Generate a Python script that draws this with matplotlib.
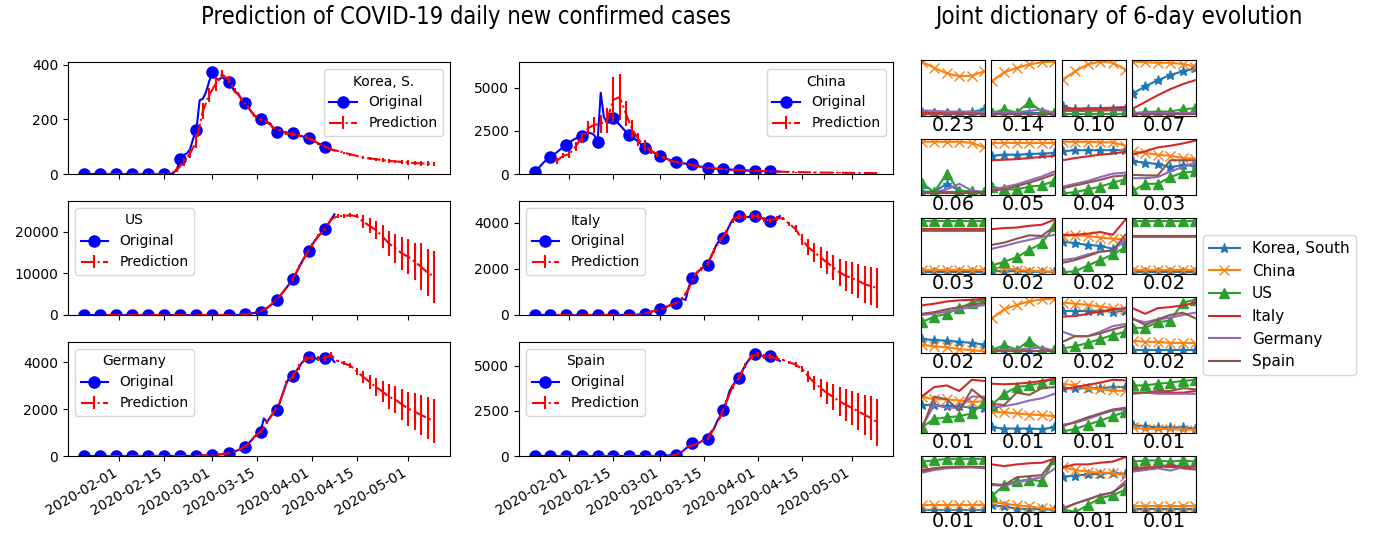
import numpy as np
import pandas as pd
import matplotlib
matplotlib.use('Agg')
import matplotlib.pyplot as plt
from matplotlib.lines import Line2D
from matplotlib import font_manager

# ---------------- data: daily original series (2020-01-21 .. 2020-04-08) ----------------
orig_dates = pd.date_range('2020-01-21', '2020-04-08', freq='D')
# prediction points every second day (2020-01-28 .. 2020-05-09)
pred_dates = pd.date_range('2020-01-28', '2020-05-09', freq='2D')

korea_orig = ([0] * 28 +
              [5, 20, 55, 70, 75, 90, 130, 161, 270, 275, 300, 340] +
              [373, 350, 345, 355, 345, 336, 320, 300, 295, 275, 259, 245, 230, 215, 205, 202,
               195, 190, 185, 165, 155, 158, 155, 150, 150, 149, 145, 140, 138, 135, 131] +
              [125, 118, 112, 105, 100, 95, 90, 86])
china_orig = ([130, 300, 500, 700, 850, 985, 1100, 1250, 1400, 1550, 1685] +
              [1800, 1950, 2050, 2150, 2216, 2350, 2400, 2350, 2250, 1850, 4700, 3300, 2950, 3000,
               3230, 3050, 2850, 2650, 2450, 2273, 2150, 2000, 1850, 1700, 1515, 1420, 1320, 1220, 1120] +
              [1023, 950, 880, 820, 760, 700, 670, 630, 600, 570, 550, 500, 460, 420, 390, 360,
               340, 320, 305, 295, 284, 270, 255, 245, 235, 227, 220, 210, 200, 195, 190] +
              [180, 172, 165, 158, 150, 145, 140, 135])
us_orig = ([0] * 49 +
           [50, 150, 250, 350, 500, 650, 800, 1200, 1700, 2300, 2900, 3600, 4500, 5500, 6500,
            7500, 8560, 10000, 11500, 13000, 14300, 15360] +
           [16800, 18000, 19000, 19800, 20560, 21800, 23000, 24200])
italy_orig = ([0] * 32 +
              [5, 15, 30, 58, 100, 140, 180, 210] +
              [247, 300, 360, 420, 470, 509, 600, 700, 650, 1200, 1600, 1750, 1900, 2000, 2100, 2180,
               2500, 2800, 3100, 3250, 3330, 3600, 3900, 4150, 4250, 4320, 4300, 4250, 4250, 4300, 4320] +
              [4300, 4250, 4150, 4100, 4060, 4150, 4200, 4300])
germany_orig = ([0] * 35 +
                [10, 15, 20, 30, 38] +
                [43, 55, 65, 80, 95, 114, 150, 200, 250, 310, 370, 500, 650, 800, 950, 1040,
                 1600, 1450, 1650, 1850, 1970, 2300, 2700, 3100, 3350, 3400, 3600, 3800, 4000, 4150, 4210] +
                [4200, 4150, 4150, 4200, 4190, 4300, 4200, 4000])
spain_orig = ([0] * 40 +
              [20, 20, 30, 40, 50, 74, 150, 250, 400, 550, 700, 600, 700, 800, 900, 926,
               1300, 1500, 1900, 2200, 2555, 3000, 3600, 3900, 4150, 4315, 4700, 5000, 5300, 5500, 5610] +
              [5600, 5550, 5500, 5500, 5520, 5450, 5350, 5250])

# ---------------- predictions (52 points) and their error half-widths ----------------
korea_pred = ([0] * 10 +
              [2, 15, 45, 75, 120, 230, 290, 330, 365, 345, 305, 275, 245, 215, 200, 190, 170, 158,
               150, 146, 140, 135, 125, 112, 100, 90,
               85, 78, 72, 66, 61, 57, 54, 51, 48, 46, 44, 42, 40, 39, 38, 37])
korea_err = ([0] * 11 +
             [8, 15, 18, 25, 30, 25, 25, 15, 12, 10, 6, 6, 6, 6, 6, 6, 6, 6, 6, 6, 6, 6, 6, 6, 6,
              4, 4, 5, 5, 5, 6, 6, 6, 7, 7, 7, 8, 8, 8, 8, 8])
china_pred = [750, 1050, 1150, 1600, 2100, 2650, 2850, 2900, 3100, 4300, 4450, 3500, 2600, 2000,
              1650, 1350, 1150, 950, 800, 700, 620, 560, 480, 410, 355, 315, 290, 265, 245, 225,
              210, 195, 180, 165, 150, 140,
              130, 120, 112, 105, 98, 92, 86, 81, 76, 72, 68, 64, 60, 57, 54, 51]
china_err = [150, 150, 200, 250, 300, 400, 450, 500, 700, 1300, 1350, 700, 500, 400, 300, 200,
             150, 100, 80, 60, 50, 40, 40, 40, 40, 40, 40, 40, 40, 40, 40, 40, 40, 40, 40, 40,
             30, 30, 30, 30, 30, 25, 25, 25, 25, 25, 25, 20, 20, 20, 20, 20]
us_pred = ([0] * 21 +
           [50, 250, 500, 800, 1700, 2900, 4500, 6500, 8600, 11500, 14300, 16800, 19000, 20600, 23000,
            23800, 23800, 24000, 23700, 22400, 21400, 20400, 18800, 17200, 16000, 14800, 14000,
            12800, 11600, 10200, 9200])
us_err = ([0] * 21 +
          [30, 60, 80, 100, 150, 200, 250, 300, 350, 400, 400, 400, 400, 400, 400,
           400, 400, 500, 500, 1600, 1800, 2200, 2800, 3000, 3400, 4000, 4200, 4400, 5600, 5600, 6200])
italy_pred = ([0] * 13 +
              [15, 60, 140, 210, 300, 420, 520, 720, 1150, 1750, 2000, 2200, 2800, 3250, 3600, 4100,
               4300, 4250, 4300, 4300, 4150, 4100, 4200,
               4200, 3950, 3740, 3280, 2950, 2720, 2500, 2280, 2065, 1850, 1700, 1600, 1480, 1340,
               1250, 1170])
italy_err = ([0] * 13 +
             [5, 10, 15, 20, 25, 30, 40, 50, 60, 70, 70, 80, 90, 100, 110, 120, 120, 120, 120, 120,
              120, 120, 120,
              60, 100, 150, 250, 350, 400, 450, 500, 550, 600, 650, 700, 750, 800, 830, 870])
germany_pred = ([0] * 14 +
                [10, 25, 35, 55, 80, 114, 200, 310, 500, 800, 1040, 1450, 1850, 2300, 3100, 3400, 3800,
                 4150, 4200, 4150, 4190, 4300,
                 4040, 3950, 3850, 3600, 3370, 3150, 2940, 2740, 2530, 2400, 2200, 2020, 1890, 1750,
                 1620, 1480])
germany_err = ([0] * 14 +
               [3, 5, 5, 8, 10, 12, 15, 20, 30, 40, 50, 70, 80, 100, 110, 120, 120, 120, 120, 120,
                120, 120,
                50, 80, 100, 150, 250, 300, 380, 450, 520, 580, 650, 720, 780, 840, 880, 930])
spain_pred = ([0] * 19 +
              [74, 250, 550, 620, 800, 930, 1500, 2150, 3000, 3850, 4320, 5000, 5500, 5600, 5500,
               5500, 5380,
               5300, 5185, 5055, 4815, 4410, 4040, 3760, 3480, 3260, 3020, 2830, 2650, 2460, 2280,
               2090, 1850])
spain_err = ([0] * 19 +
             [10, 20, 30, 30, 40, 50, 60, 80, 100, 120, 130, 150, 150, 150, 150, 150, 150,
              60, 80, 120, 180, 300, 400, 500, 600, 700, 800, 900, 950, 1000, 1100, 1200, 1300])

panel_titles = ['Korea, S.', 'China', 'US', 'Italy', 'Germany', 'Spain']
orig_series = [korea_orig, china_orig, us_orig, italy_orig, germany_orig, spain_orig]
pred_series = [korea_pred, china_pred, us_pred, italy_pred, germany_pred, spain_pred]
err_series = [korea_err, china_err, us_err, italy_err, germany_err, spain_err]
legend_locs = ['upper right', 'upper right', 'upper left', 'upper left', 'upper left', 'upper left']
y_tops = [410, 6480, 27400, 4950, 4860, 6300]
y_ticks = [[0, 200, 400], [0, 2500, 5000], [0, 10000, 20000], [0, 2000, 4000],
           [0, 2000, 4000], [0, 2500, 5000]]
x_tick_labels = ['2020-02-01', '2020-02-15', '2020-03-01', '2020-03-15',
                 '2020-04-01', '2020-04-15', '2020-05-01']

# ---------------- dictionary atoms (6-day evolution, normalised height in tile) ----------------
atom_weights = ['0.23', '0.14', '0.10', '0.07', '0.06', '0.05', '0.04', '0.03',
                '0.03', '0.02', '0.02', '0.02', '0.02', '0.02', '0.02', '0.02',
                '0.01', '0.01', '0.01', '0.01', '0.01', '0.01', '0.01', '0.01']
atom_korea = [
    [0.07, 0.06, 0.06, 0.06, 0.07, 0.12], [0.05, 0.05, 0.05, 0.05, 0.05, 0.05],
    [0.17, 0.12, 0.12, 0.12, 0.12, 0.13], [0.40, 0.53, 0.64, 0.73, 0.80, 0.85],
    [0.06, 0.06, 0.20, 0.08, 0.05, 0.05], [0.70, 0.72, 0.72, 0.73, 0.74, 0.75],
    [0.78, 0.80, 0.80, 0.80, 0.80, 0.80], [0.60, 0.58, 0.55, 0.50, 0.53, 0.52],
    [0.03, 0.03, 0.03, 0.03, 0.03, 0.03], [0.06, 0.05, 0.05, 0.04, 0.04, 0.04],
    [0.58, 0.55, 0.52, 0.50, 0.45, 0.58], [0.04, 0.04, 0.04, 0.04, 0.04, 0.04],
    [0.25, 0.23, 0.22, 0.20, 0.18, 0.15], [0.04, 0.04, 0.04, 0.04, 0.04, 0.04],
    [0.75, 0.75, 0.75, 0.75, 0.74, 0.75], [0.05, 0.05, 0.05, 0.05, 0.05, 0.05],
    [0.50, 0.50, 0.48, 0.48, 0.45, 0.45], [0.10, 0.08, 0.08, 0.08, 0.07, 0.10],
    [0.80, 0.80, 0.80, 0.80, 0.82, 0.82], [0.14, 0.12, 0.10, 0.10, 0.10, 0.08],
    [0.04, 0.04, 0.04, 0.04, 0.04, 0.04], [0.12, 0.10, 0.06, 0.05, 0.05, 0.04],
    [0.63, 0.65, 0.67, 0.68, 0.70, 0.68], [0.05, 0.05, 0.05, 0.05, 0.05, 0.05]]
atom_china = [
    [0.97, 0.86, 0.76, 0.71, 0.72, 0.80], [0.62, 0.78, 0.86, 0.92, 0.96, 0.97],
    [0.65, 0.80, 0.92, 0.97, 0.95, 0.83], [0.97, 0.96, 0.95, 0.95, 0.93, 0.88],
    [0.95, 0.95, 0.95, 0.95, 0.93, 0.85], [0.93, 0.93, 0.93, 0.93, 0.93, 0.93],
    [0.95, 0.95, 0.95, 0.94, 0.94, 0.88], [0.78, 0.75, 0.72, 0.70, 0.66, 0.65],
    [0.07, 0.07, 0.07, 0.07, 0.07, 0.07], [0.12, 0.10, 0.08, 0.06, 0.05, 0.04],
    [0.68, 0.69, 0.68, 0.65, 0.63, 0.62], [0.08, 0.08, 0.08, 0.08, 0.08, 0.08],
    [0.15, 0.12, 0.10, 0.07, 0.05, 0.03], [0.62, 0.78, 0.86, 0.92, 0.96, 0.97],
    [0.90, 0.88, 0.86, 0.83, 0.80, 0.78], [0.22, 0.20, 0.20, 0.18, 0.18, 0.18],
    [0.65, 0.60, 0.60, 0.58, 0.55, 0.57], [0.38, 0.37, 0.35, 0.33, 0.32, 0.30],
    [0.88, 0.85, 0.80, 0.78, 0.76, 0.75], [0.10, 0.07, 0.07, 0.07, 0.06, 0.06],
    [0.12, 0.12, 0.12, 0.12, 0.12, 0.12], [0.18, 0.15, 0.12, 0.10, 0.07, 0.05],
    [0.80, 0.75, 0.72, 0.70, 0.70, 0.65], [0.10, 0.10, 0.10, 0.10, 0.10, 0.10]]
atom_us = [
    [0.04, 0.05, 0.06, 0.05, 0.06, 0.05], [0.05, 0.12, 0.06, 0.25, 0.08, 0.05],
    [0.04, 0.04, 0.04, 0.04, 0.04, 0.04], [0.05, 0.07, 0.08, 0.08, 0.12, 0.14],
    [0.22, 0.05, 0.38, 0.07, 0.07, 0.05], [0.15, 0.10, 0.10, 0.15, 0.17, 0.25],
    [0.03, 0.05, 0.10, 0.15, 0.22, 0.28], [0.07, 0.20, 0.20, 0.32, 0.40, 0.42],
    [0.95, 0.95, 0.95, 0.95, 0.95, 0.95], [0.15, 0.22, 0.30, 0.43, 0.55, 0.85],
    [0.03, 0.05, 0.15, 0.25, 0.35, 0.48], [0.95, 0.95, 0.95, 0.95, 0.95, 0.95],
    [0.55, 0.65, 0.70, 0.80, 0.90, 0.95], [0.05, 0.14, 0.06, 0.22, 0.06, 0.05],
    [0.08, 0.12, 0.18, 0.25, 0.32, 0.38], [0.45, 0.45, 0.55, 0.58, 0.90, 0.95],
    [0.10, 0.25, 0.28, 0.30, 0.35, 0.55], [0.50, 0.70, 0.82, 0.85, 0.90, 0.97],
    [0.03, 0.07, 0.15, 0.22, 0.30, 0.38], [0.85, 0.85, 0.88, 0.90, 0.93, 0.95],
    [0.90, 0.92, 0.95, 0.95, 0.95, 0.95], [0.28, 0.48, 0.55, 0.58, 0.55, 0.95],
    [0.05, 0.00, 0.12, 0.25, 0.30, 0.40], [0.90, 0.92, 0.92, 0.90, 0.92, 0.90]]
atom_italy = [
    [0.05, 0.05, 0.05, 0.05, 0.05, 0.05], [0.04, 0.04, 0.04, 0.04, 0.04, 0.04],
    [0.13, 0.13, 0.14, 0.14, 0.15, 0.16], [0.13, 0.25, 0.37, 0.48, 0.57, 0.64],
    [0.04, 0.04, 0.04, 0.04, 0.04, 0.04], [0.62, 0.63, 0.64, 0.66, 0.68, 0.70],
    [0.62, 0.66, 0.69, 0.72, 0.74, 0.77], [0.72, 0.78, 0.85, 0.88, 0.92, 0.97],
    [0.81, 0.81, 0.81, 0.81, 0.81, 0.81], [0.80, 0.82, 0.83, 0.86, 0.88, 0.97],
    [0.70, 0.70, 0.72, 0.75, 0.70, 0.97], [0.67, 0.67, 0.67, 0.67, 0.67, 0.67],
    [0.85, 0.88, 0.92, 0.94, 0.95, 0.97], [0.03, 0.03, 0.03, 0.03, 0.03, 0.03],
    [0.65, 0.66, 0.70, 0.74, 0.78, 0.80], [0.80, 0.70, 0.80, 0.82, 0.85, 0.90],
    [0.65, 0.82, 0.85, 0.75, 0.95, 0.93], [0.88, 0.87, 0.88, 0.90, 0.93, 0.97],
    [0.78, 0.82, 0.86, 0.90, 0.95, 0.94], [0.70, 0.72, 0.73, 0.72, 0.72, 0.75],
    [0.75, 0.78, 0.80, 0.80, 0.80, 0.80], [0.85, 0.82, 0.85, 0.87, 0.88, 0.95],
    [0.80, 0.85, 0.85, 0.88, 0.90, 0.98], [0.78, 0.80, 0.80, 0.82, 0.78, 0.76]]
atom_germany = [
    [0.10, 0.09, 0.08, 0.08, 0.08, 0.07], [0.06, 0.07, 0.07, 0.09, 0.12, 0.05],
    [0.09, 0.09, 0.09, 0.10, 0.10, 0.10], [0.05, 0.05, 0.05, 0.05, 0.05, 0.05],
    [0.05, 0.05, 0.10, 0.20, 0.08, 0.05], [0.10, 0.14, 0.19, 0.26, 0.33, 0.42],
    [0.15, 0.20, 0.25, 0.32, 0.38, 0.40], [0.30, 0.30, 0.32, 0.42, 0.50, 0.58],
    [0.76, 0.76, 0.76, 0.76, 0.76, 0.76], [0.45, 0.50, 0.56, 0.61, 0.66, 0.70],
    [0.25, 0.28, 0.35, 0.40, 0.42, 0.62], [0.66, 0.66, 0.66, 0.66, 0.66, 0.66],
    [0.68, 0.70, 0.74, 0.78, 0.82, 0.86], [0.05, 0.06, 0.06, 0.08, 0.10, 0.04],
    [0.38, 0.30, 0.30, 0.38, 0.48, 0.52], [0.60, 0.55, 0.60, 0.63, 0.68, 0.72],
    [0.10, 0.50, 0.45, 0.45, 0.65, 0.65], [0.45, 0.48, 0.52, 0.58, 0.62, 0.70],
    [0.15, 0.18, 0.25, 0.33, 0.40, 0.42], [0.72, 0.72, 0.70, 0.70, 0.70, 0.70],
    [0.70, 0.75, 0.78, 0.79, 0.80, 0.78], [0.48, 0.47, 0.52, 0.58, 0.62, 0.77],
    [0.07, 0.15, 0.23, 0.30, 0.35, 0.55], [0.72, 0.75, 0.78, 0.74, 0.80, 0.80]]
atom_spain = [
    [0.04, 0.04, 0.04, 0.04, 0.04, 0.04], [0.03, 0.03, 0.03, 0.03, 0.03, 0.03],
    [0.10, 0.10, 0.10, 0.10, 0.11, 0.11], [0.04, 0.04, 0.04, 0.04, 0.04, 0.04],
    [0.05, 0.05, 0.05, 0.05, 0.05, 0.05], [0.08, 0.10, 0.16, 0.22, 0.29, 0.37],
    [0.12, 0.17, 0.22, 0.27, 0.33, 0.35], [0.36, 0.35, 0.35, 0.62, 0.62, 0.62],
    [0.79, 0.79, 0.79, 0.79, 0.79, 0.79], [0.52, 0.56, 0.63, 0.69, 0.68, 0.85],
    [0.20, 0.25, 0.32, 0.40, 0.42, 0.70], [0.68, 0.68, 0.68, 0.68, 0.68, 0.68],
    [0.70, 0.73, 0.78, 0.82, 0.86, 0.90], [0.03, 0.03, 0.03, 0.03, 0.03, 0.03],
    [0.20, 0.30, 0.30, 0.35, 0.42, 0.48], [0.62, 0.50, 0.60, 0.68, 0.72, 0.62],
    [0.05, 0.65, 0.60, 0.40, 0.78, 0.60], [0.52, 0.50, 0.72, 0.68, 0.80, 0.82],
    [0.12, 0.20, 0.28, 0.35, 0.42, 0.45], [0.72, 0.72, 0.75, 0.75, 0.80, 0.78],
    [0.72, 0.78, 0.80, 0.81, 0.81, 0.80], [0.50, 0.48, 0.62, 0.64, 0.66, 0.95],
    [0.05, 0.15, 0.22, 0.30, 0.35, 0.50], [0.75, 0.78, 0.80, 0.85, 0.80, 0.82]]

atom_countries = ['Korea, South', 'China', 'US', 'Italy', 'Germany', 'Spain']
atom_data = [atom_korea, atom_china, atom_us, atom_italy, atom_germany, atom_spain]
atom_colors = ['#1f77b4', '#ff7f0e', '#2ca02c', '#d62728', '#9467bd', '#8c564b']
atom_markers = ['*', 'x', '^', None, None, None]

# ---------------- figure ----------------
W, H = 1382, 533
fig = plt.figure(figsize=(W / 100, H / 100), dpi=100)


def px_axes(left, top, right, bottom):
    return fig.add_axes([left / W, 1 - bottom / H, (right - left) / W, (bottom - top) / H])


col_lr = [(68, 450), (519, 893)]
row_tb = [(62, 174), (201, 315), (342, 456)]
xlim = (pd.Timestamp('2020-01-16'), pd.Timestamp('2020-05-14'))
xticks = pd.to_datetime(x_tick_labels)

for k in range(6):
    r, c = divmod(k, 2)
    ax = px_axes(col_lr[c][0], row_tb[r][0], col_lr[c][1], row_tb[r][1])
    ax.plot(orig_dates, orig_series[k], '-', color='b', marker='o', markevery=5,
            ms=8, lw=1.5, label='Original', zorder=2)
    ax.errorbar(pred_dates, pred_series[k], yerr=err_series[k], fmt='-.', color='r',
                ecolor='r', lw=1.5, elinewidth=1.5, capsize=0, label='Prediction', zorder=3)
    ax.set_xlim(*xlim)
    ax.set_ylim(0, y_tops[k])
    ax.set_yticks(y_ticks[k])
    ax.set_xticks(xticks)
    ax.tick_params(labelsize=10)
    if r == 2:
        ax.set_xticklabels(x_tick_labels, rotation=30, ha='right')
    else:
        ax.set_xticklabels([])
    ax.legend(loc=legend_locs[k], title=panel_titles[k], fontsize=10, title_fontsize=10)

# dictionary tiles
tile_left = [921, 991, 1062, 1132]
tile_top = [60, 139, 218, 297, 377, 456]
tw, th = 64, 56
xs = np.arange(6)
for t in range(24):
    r, c = divmod(t, 4)
    ax = px_axes(tile_left[c], tile_top[r], tile_left[c] + tw, tile_top[r] + th)
    for j in range(6):
        ax.plot(xs, atom_data[j][t], color=atom_colors[j], marker=atom_markers[j],
                ms=6.5, lw=1.5)
    ax.set_xlim(-0.05, 5.05)
    ax.set_ylim(0, 1)
    ax.set_xticks([])
    ax.set_yticks([])
    ax.set_xlabel(atom_weights[t], fontsize=14, labelpad=0)

handles = [Line2D([], [], color=atom_colors[j], marker=atom_markers[j], ms=6.5, lw=1.5)
           for j in range(6)]
fig.legend(handles, atom_countries, loc='upper left', bbox_to_anchor=(1203 / W, 1 - 235 / H),
           borderaxespad=0, fontsize=11)

# narrow upright face for the two headings, if one is installed
narrow = None
best = 99
for f in font_manager.fontManager.ttflist:
    fn = f.fname.lower()
    nm = f.name.lower()
    if f.style != 'normal' or f.weight not in (400, 'normal', 'regular'):
        continue
    if any(s in fn for s in ('oblique', 'italic', 'bold', 'light', 'thin', 'medium', 'semi', 'black', 'extra')):
        continue
    is_narrow = ('narrow' in nm or 'narrow' in fn or 'condensed' in nm or 'condensed' in fn
                 or str(f.stretch) in ('condensed', 'semi-condensed', '75', '87'))
    if not is_narrow:
        continue
    rank = 0 if 'liberation' in fn else (1 if 'dejavu' in fn else 2)
    if rank < best:
        best = rank
        narrow = f.fname


def fit_text(xc, yc, s, target_w):
    if narrow:
        fp = font_manager.FontProperties(fname=narrow, size=14)
    else:
        fp = font_manager.FontProperties(family='DejaVu Sans', size=14)
    t = fig.text(xc / W, 1 - yc / H, s, ha='center', va='center', fontproperties=fp)
    w = t.get_window_extent(fig.canvas.get_renderer()).width
    t.set_fontsize(14 * target_w / w)


fit_text(466, 17, 'Prediction of COVID-19 daily new confirmed cases', 536)
fit_text(1119, 17, 'Joint dictionary of 6-day evolution', 369)

fig.savefig('out.png', dpi=100)
